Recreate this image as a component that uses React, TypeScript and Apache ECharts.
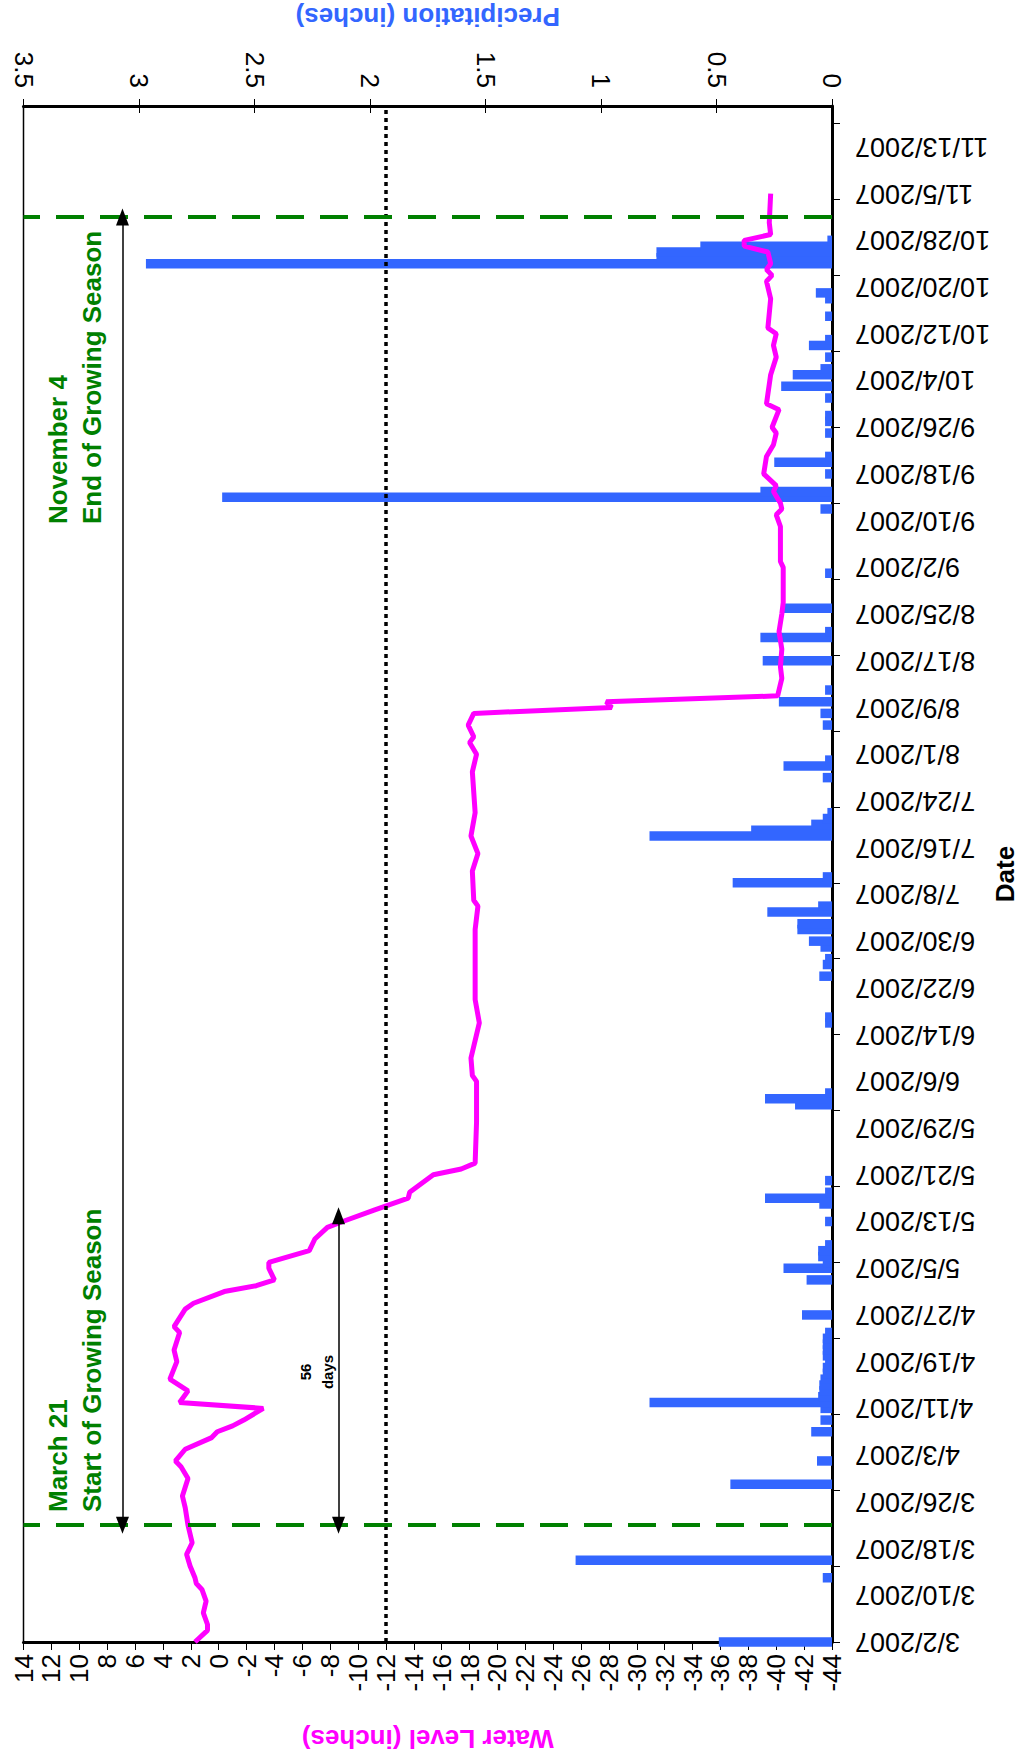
import React, { useEffect, useRef } from "react";
import * as echarts from "echarts";

// ---------- DATA ----------
const YEAR = "2007";
const START_UTC = Date.UTC(2007, 2, 2); // 3/2/2007
const DAY_COUNT = 264; // 3/2/2007 .. 11/20/2007, one category per day

const dateCategories: string[] = [];
for (let i = 0; i < DAY_COUNT; i++) {
  const t = new Date(START_UTC + i * 86400000);
  dateCategories.push(`${t.getUTCMonth() + 1}/${t.getUTCDate()}/${YEAR}`);
}

// Precipitation (inches)
const precipDates = [
  "3/2", "3/13", "3/16", "3/29", "4/2", "4/7", "4/9", "4/11", "4/12", "4/13",
  "4/14", "4/15", "4/16", "4/17", "4/18", "4/19", "4/20", "4/21", "4/22", "4/23",
  "4/24", "4/27", "5/3", "5/5", "5/6", "5/7", "5/8", "5/9", "5/13", "5/16",
  "5/17", "5/18", "5/20", "6/2", "6/3", "6/4", "6/16", "6/17", "6/24", "6/26",
  "6/27", "6/29", "6/30", "7/2", "7/3", "7/5", "7/6", "7/10", "7/11", "7/18",
  "7/19", "7/20", "7/21", "7/22", "7/28", "7/30", "7/31", "8/6", "8/8", "8/10",
  "8/12", "8/17", "8/21", "8/22", "8/26", "9/1", "9/12", "9/14", "9/15", "9/18",
  "9/20", "9/21", "9/25", "9/27", "9/28", "10/1", "10/3", "10/5", "10/6", "10/8",
  "10/10", "10/11", "10/15", "10/18", "10/19", "10/24", "10/25", "10/26", "10/27", "10/28",
];
const precipValues = [
  0.49, 0.04, 1.11, 0.44, 0.065, 0.09, 0.05, 0.05, 0.79, 0.06,
  0.055, 0.055, 0.05, 0.04, 0.04, 0.03, 0.04, 0.04, 0.04, 0.04,
  0.03, 0.13, 0.11, 0.21, 0.04, 0.06, 0.06, 0.03, 0.03, 0.055,
  0.29, 0.03, 0.03, 0.16, 0.29, 0.03, 0.03, 0.03, 0.055, 0.04,
  0.03, 0.05, 0.1, 0.15, 0.15, 0.28, 0.06, 0.43, 0.04, 0.79,
  0.35, 0.09, 0.04, 0.02, 0.04, 0.21, 0.03, 0.04, 0.05, 0.23,
  0.03, 0.3, 0.31, 0.03, 0.21, 0.03, 0.05, 2.64, 0.31, 0.03,
  0.25, 0.03, 0.03, 0.03, 0.03, 0.03, 0.22, 0.17, 0.05, 0.03,
  0.1, 0.03, 0.03, 0.03, 0.07, 2.97, 0.76, 0.76, 0.57, 0.02,
];

// Water level (inches)
const levelDates = [
  "3/2", "3/4", "3/5", "3/7", "3/9", "3/11", "3/12", "3/13", "3/15", "3/17",
  "3/19", "3/22", "3/25", "3/27", "3/30", "4/1", "4/2", "4/4", "4/6", "4/7",
  "4/8", "4/9", "4/11", "4/12", "4/14", "4/16", "4/19", "4/21", "4/24", "4/25",
  "4/28", "4/29", "5/1", "5/2", "5/3", "5/5", "5/6", "5/8", "5/10", "5/12",
  "5/13", "5/15", "5/17", "5/18", "5/21", "5/22", "5/23", "5/30", "6/6", "6/7",
  "6/10", "6/14", "6/16", "6/20", "6/26", "7/2", "7/6", "7/7", "7/12", "7/15",
  "7/18", "7/22", "7/29", "8/1", "8/3", "8/4", "8/6", "8/8", "8/9", "8/10",
  "8/11", "8/14", "8/16", "8/19", "8/22", "8/25", "8/27", "9/2", "9/3", "9/9",
  "9/11", "9/12", "9/13", "9/15", "9/16", "9/18", "9/21", "9/23", "9/25", "9/26",
  "9/29", "9/30", "10/5", "10/8", "10/10", "10/12", "10/13", "10/18", "10/21", "10/22",
  "10/23", "10/24", "10/26", "10/27", "10/28", "10/29", "10/31", "11/5",
];
const levelValues = [
  1.7, 0.8, 0.8, 1.1, 0.9, 1.2, 1.6, 1.7, 2.05, 2.3,
  1.9, 2.2, 2.4, 2.6, 2.2, 2.7, 3.1, 2.4, 0.5, 0.1,
  -1.0, -1.8, -3.2, 2.8, 2.2, 3.5, 3.0, 3.2, 2.8, 3.2,
  2.4, 1.8, -0.4, -2.7, -4.0, -3.6, -3.6, -6.5, -6.9, -7.8,
  -8.9, -11.2, -13.6, -13.7, -15.4, -17.4, -18.4, -18.5, -18.5, -18.2,
  -18.1, -18.5, -18.7, -18.4, -18.4, -18.4, -18.6, -18.3, -18.2, -18.6,
  -18.1, -18.4, -18.2, -18.5, -18.0, -18.3, -17.9, -18.3, -28.2, -27.8,
  -40.1, -40.4, -40.3, -40.4, -40.2, -40.4, -40.5, -40.5, -40.3, -40.3,
  -40.0, -40.4, -40.3, -39.8, -40.0, -39.1, -39.3, -39.8, -40.0, -39.7,
  -40.2, -39.3, -39.6, -40.0, -39.8, -40.0, -39.4, -39.6, -39.3, -39.7,
  -39.3, -39.6, -39.4, -37.7, -37.7, -39.6, -39.5, -39.6,
];

// Axes
const levelMin = -44;
const levelMax = 14;
const levelStep = 2;
const precipMin = 0;
const precipMax = 3.5;
const precipStep = 0.5;

// Annotations
const referenceLevel = -12;
const seasonStart = "3/22";
const seasonEnd = "11/1";
const seasonArrowLevel = 6.9;
const daysArrowEnd = "5/14";
const daysArrowLevel = -8.6;

const full = (md: string) => `${md}/${YEAR}`;
const FONT = "'Liberation Sans', Arial, Helvetica, sans-serif";

export default function App() {
  const ref = useRef<HTMLDivElement>(null);

  useEffect(() => {
    if (!ref.current) return;
    const chart = echarts.init(ref.current, undefined, { renderer: "svg" });

    const barData = precipDates.map((d, i) => [precipValues[i], full(d)]);
    const lineData = levelDates.map((d, i) => [levelValues[i], full(d)]);

    const option: any = {
      animation: false,
      backgroundColor: "#ffffff",
      textStyle: { fontFamily: FONT },
      grid: {
        left: 23.5,
        right: 195,
        top: 106,
        bottom: 121,
        containLabel: false,
        outerBoundsMode: "none",
        show: true,
        borderColor: "#000",
        borderWidth: 1.5,
        backgroundColor: "transparent",
      },
      xAxis: [
        {
          type: "value",
          position: "bottom",
          min: levelMin,
          max: levelMax,
          interval: levelStep,
          inverse: true,
          axisLine: { show: true, onZero: false, lineStyle: { color: "#000", width: 3 } },
          axisTick: { show: true, length: 8, lineStyle: { color: "#000", width: 1 } },
          axisLabel: { rotate: 90, fontSize: 26, color: "#000", margin: 12, fontFamily: FONT },
          splitLine: { show: false },
          name: "Water Level (inches)",
          nameLocation: "middle",
          nameRotate: 180,
          nameGap: 84,
          nameTextStyle: { color: "#FF00FF", fontSize: 26, fontWeight: "bold", fontFamily: FONT },
        },
        {
          type: "value",
          position: "top",
          min: precipMin,
          max: precipMax,
          interval: precipStep,
          inverse: true,
          axisLine: { show: true, onZero: false, lineStyle: { color: "#000", width: 3 } },
          axisTick: { show: true, length: 7, lineStyle: { color: "#000", width: 1 } },
          axisLabel: { rotate: 90, fontSize: 26, color: "#000", margin: 18, fontFamily: FONT },
          splitLine: { show: false },
          name: "Precipitation (inches)",
          nameLocation: "middle",
          nameRotate: 180,
          nameGap: 76,
          nameTextStyle: { color: "#3366FF", fontSize: 26, fontWeight: "bold", fontFamily: FONT },
        },
        {
          type: "value",
          position: "top",
          min: precipMin,
          max: precipMax,
          interval: precipStep,
          inverse: true,
          axisLine: { show: false },
          axisTick: { show: true, inside: true, length: 7, lineStyle: { color: "#000", width: 1 } },
          axisLabel: { show: false },
          splitLine: { show: false },
        },
      ],
      yAxis: [
        {
          type: "category",
          position: "right",
          data: dateCategories,
          boundaryGap: false,
          axisLine: { show: true, onZero: false, lineStyle: { color: "#000", width: 3 } },
          axisTick: { show: true, interval: 12, length: 8, lineStyle: { color: "#000", width: 1 } },
          axisLabel: {
            interval: 7,
            rotate: 180,
            fontSize: 27,
            color: "#000",
            margin: 23,
            fontFamily: FONT,
          },
          splitLine: { show: false },
          name: "Date",
          nameLocation: "middle",
          nameRotate: 90,
          nameGap: 160,
          nameMoveOverlap: false,
          nameTextStyle: { color: "#000", fontSize: 26, fontWeight: "bold", fontFamily: FONT },
        },
      ],
      series: [
        {
          name: "Precipitation",
          type: "bar",
          xAxisIndex: 1,
          yAxisIndex: 0,
          barWidth: 9.5,
          itemStyle: { color: "#3366FF" },
          data: barData,
        },
        {
          name: "Water Level",
          type: "line",
          xAxisIndex: 0,
          yAxisIndex: 0,
          symbol: "none",
          showSymbol: false,
          lineStyle: { color: "#FF00FF", width: 5 },
          data: lineData,
          z: 3,
          markLine: {
            silent: true,
            symbol: ["none", "none"],
            label: { show: false },
            data: [
              { xAxis: referenceLevel, lineStyle: { color: "#000", type: [4, 4], width: 3.5 } },
              { yAxis: full(seasonStart), lineStyle: { color: "#008000", type: [28, 16], width: 4 } },
              { yAxis: full(seasonEnd), lineStyle: { color: "#008000", type: [28, 16], width: 4 } },
            ],
          },
        },
        {
          name: "Arrows",
          type: "line",
          xAxisIndex: 0,
          yAxisIndex: 0,
          data: [],
          z: 4,
          markLine: {
            silent: true,
            symbol: ["triangle", "triangle"],
            symbolSize: [13, 17],
            label: { show: false },
            lineStyle: { color: "#000", width: 1.5, type: "solid" },
            data: [
              [
                { coord: [seasonArrowLevel, full(seasonStart)] },
                { coord: [seasonArrowLevel, full(seasonEnd)] },
              ],
              [
                { coord: [daysArrowLevel, full(seasonStart)] },
                { coord: [daysArrowLevel, full(daysArrowEnd)] },
              ],
            ],
          },
        },
      ],
      graphic: [
        {
          type: "text",
          x: 58,
          y: 1512,
          rotation: Math.PI / 2,
          style: {
            text: "March 21",
            fill: "#008000",
            font: `bold 26px ${FONT}`,
            align: "left",
            verticalAlign: "middle",
            textAlign: "left",
            textVerticalAlign: "middle",
          },
        },
        {
          type: "text",
          x: 92,
          y: 1512,
          rotation: Math.PI / 2,
          style: {
            text: "Start of Growing Season",
            fill: "#008000",
            font: `bold 26px ${FONT}`,
            align: "left",
            verticalAlign: "middle",
            textAlign: "left",
            textVerticalAlign: "middle",
          },
        },
        {
          type: "text",
          x: 58,
          y: 524,
          rotation: Math.PI / 2,
          style: {
            text: "November 4",
            fill: "#008000",
            font: `bold 26px ${FONT}`,
            align: "left",
            verticalAlign: "middle",
            textAlign: "left",
            textVerticalAlign: "middle",
          },
        },
        {
          type: "text",
          x: 92,
          y: 524,
          rotation: Math.PI / 2,
          style: {
            text: "End of Growing Season",
            fill: "#008000",
            font: `bold 26px ${FONT}`,
            align: "left",
            verticalAlign: "middle",
            textAlign: "left",
            textVerticalAlign: "middle",
          },
        },
        {
          type: "text",
          x: 305,
          y: 1372,
          rotation: Math.PI / 2,
          style: {
            text: "56",
            fill: "#000",
            font: `bold 15px ${FONT}`,
            align: "center",
            verticalAlign: "middle",
            textAlign: "center",
            textVerticalAlign: "middle",
          },
        },
        {
          type: "text",
          x: 327,
          y: 1372,
          rotation: Math.PI / 2,
          style: {
            text: "days",
            fill: "#000",
            font: `bold 15px ${FONT}`,
            align: "center",
            verticalAlign: "middle",
            textAlign: "center",
            textVerticalAlign: "middle",
          },
        },
      ],
    };

    chart.setOption(option);
    return () => {
      chart.dispose();
    };
  }, []);

  return (
    <div
      ref={ref}
      style={{ position: "absolute", left: 0, top: 0, width: 1027, height: 1763, background: "#fff" }}
    />
  );
}
